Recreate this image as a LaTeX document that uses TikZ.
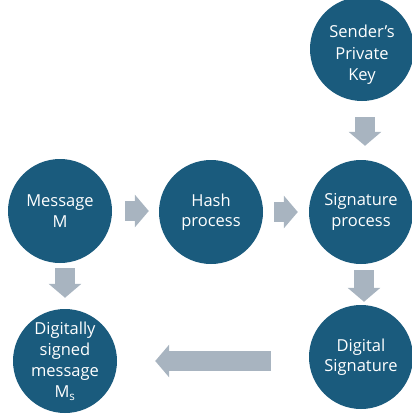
\documentclass[tikz,border=0pt]{standalone}
\usepackage{fontspec}
\setmainfont{Open Sans}
\usetikzlibrary{arrows.meta}
\definecolor{circ}{RGB}{26,91,125}
\definecolor{arr}{RGB}{168,180,192}
\begin{document}
\begin{tikzpicture}[x=1pt,y=-1pt,
  stage/.style={circle, fill=circ, minimum size=104pt, inner sep=0pt, text=white, align=center, font=\fontsize{16.5}{20.5}\selectfont},
  blockarrow/.style={draw=arr, line width=20pt, -{Triangle[length=14pt,width=32pt]}}]
\useasboundingbox (0,0) rectangle (412,415);
\clip (0,0) rectangle (412,415);
\node[stage] (msg)  at (60,211)  {Message\\M};
\node[stage] (hash) at (211,212) {Hash\\process};
\node[stage] (sig)  at (361,212) {Signature\\process};
\node[stage, label={[text=white, align=center, font=\fontsize{16.5}{21.5}\selectfont, yshift=-6pt]center:{Sender’s\\Private\\Key}}] (key) at (362,49) {};
\node[stage] (dsig) at (361,357) {Digital\\Signature};
\node[stage, font=\fontsize{16.5}{21}\selectfont] (dsm) at (65,361) {Digitally\\signed\\message\\M\textsubscript{s}};
\draw[blockarrow, shorten <=13pt, shorten >=10pt] (msg.east) -- (msg.east -| hash.west);
\draw[blockarrow, shorten <=11pt, shorten >=11pt] (hash.east) -- (hash.east -| sig.west);
\draw[blockarrow, shorten <=16pt, shorten >=14pt] ([xshift=3pt]key.south) -- ([xshift=4pt]sig.north);
\draw[blockarrow, shorten <=6pt, shorten >=3pt] ([xshift=3pt]sig.south) -- ([xshift=3pt]dsig.north);
\draw[blockarrow, shorten <=5pt, shorten >=11pt] (msg.south -| dsm.north) -- (dsm.north);
\draw[blockarrow, shorten <=38pt, shorten >=38pt] (dsig.west |- dsm.east) -- (dsm.east);
\end{tikzpicture}
\end{document}
